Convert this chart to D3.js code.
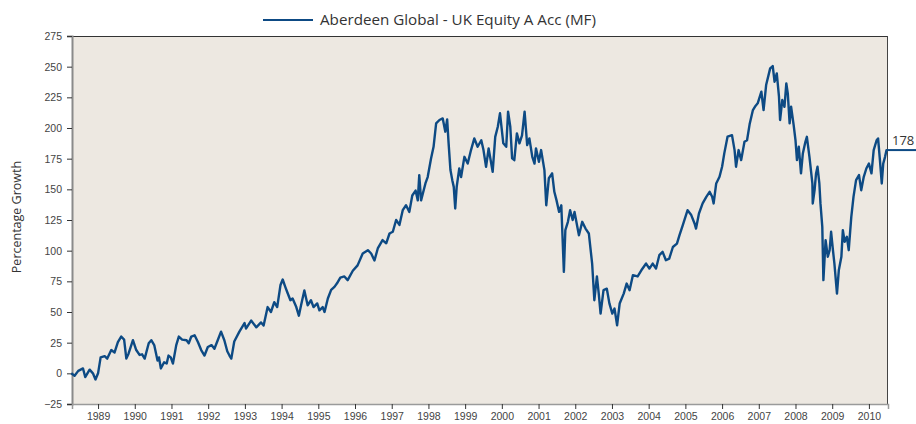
<!DOCTYPE html>
<html>
<head>
<meta charset="utf-8">
<script src="https://cdn.jsdelivr.net/npm/d3@7"></script>
<style>
  body { margin: 0; background: #fff; }
  svg { display: block; font-family: "Open Sans", "Noto Sans", sans-serif; }
</style>
</head>
<body>
<svg id="chart" width="916" height="424"></svg>
<script>
// fund growth (decimal year, % growth)
var seriesName = 'Aberdeen Global - UK Equity A Acc (MF)';
var yTicks = [-25, 0, 25, 50, 75, 100, 125, 150, 175, 200, 225, 250, 275];
var yearTicks = d3.range(1989, 2011);
var endLabel = '178';

var dates = [
  1988.27, 1988.36, 1988.46, 1988.59, 1988.65, 1988.77, 1988.86, 1988.93, 1989.00, 1989.07,
  1989.18, 1989.25, 1989.36, 1989.45, 1989.54, 1989.63, 1989.71, 1989.77, 1989.83, 1989.95,
  1990.04, 1990.13, 1990.20, 1990.27, 1990.38, 1990.45, 1990.53, 1990.62, 1990.66, 1990.71,
  1990.80, 1990.87, 1990.92, 1990.98, 1991.04, 1991.13, 1991.20, 1991.29, 1991.41, 1991.47,
  1991.54, 1991.63, 1991.72, 1991.81, 1991.90, 1991.99, 1992.09, 1992.17, 1992.26, 1992.35,
  1992.44, 1992.52, 1992.58, 1992.63, 1992.71, 1992.85, 1992.99, 1993.03, 1993.17, 1993.31,
  1993.44, 1993.51, 1993.62, 1993.71, 1993.80, 1993.88, 1993.97, 1994.03, 1994.10, 1994.15,
  1994.24, 1994.30, 1994.40, 1994.47, 1994.53, 1994.62, 1994.71, 1994.80, 1994.87, 1994.97,
  1995.03, 1995.12, 1995.17, 1995.26, 1995.35, 1995.44, 1995.51, 1995.60, 1995.71, 1995.80,
  1995.94, 1996.07, 1996.21, 1996.35, 1996.44, 1996.53, 1996.62, 1996.75, 1996.85, 1996.94,
  1997.03, 1997.12, 1997.21, 1997.30, 1997.39, 1997.48, 1997.56, 1997.65, 1997.71, 1997.75,
  1997.80, 1997.92, 1997.98, 1998.07, 1998.14, 1998.21, 1998.30, 1998.39, 1998.46, 1998.51,
  1998.55, 1998.60, 1998.65, 1998.69, 1998.73, 1998.77, 1998.84, 1998.89, 1998.98, 1999.07,
  1999.16, 1999.25, 1999.34, 1999.44, 1999.50, 1999.57, 1999.64, 1999.75, 1999.82, 1999.89,
  1999.95, 2000.04, 2000.12, 2000.17, 2000.23, 2000.28, 2000.34, 2000.41, 2000.48, 2000.55,
  2000.62, 2000.69, 2000.75, 2000.83, 2000.89, 2000.93, 2001.01, 2001.07, 2001.16, 2001.21,
  2001.28, 2001.37, 2001.43, 2001.49, 2001.56, 2001.62, 2001.66, 2001.69, 2001.73, 2001.80,
  2001.86, 2001.93, 2001.98, 2002.10, 2002.19, 2002.28, 2002.37, 2002.46, 2002.52, 2002.59,
  2002.64, 2002.69, 2002.77, 2002.86, 2002.93, 2003.01, 2003.07, 2003.14, 2003.21, 2003.32,
  2003.40, 2003.48, 2003.57, 2003.70, 2003.80, 2003.93, 2004.02, 2004.11, 2004.20, 2004.29,
  2004.38, 2004.47, 2004.56, 2004.66, 2004.77, 2004.84, 2004.93, 2005.06, 2005.16, 2005.25,
  2005.29, 2005.37, 2005.47, 2005.57, 2005.66, 2005.73, 2005.77, 2005.84, 2005.93, 2006.00,
  2006.06, 2006.15, 2006.27, 2006.34, 2006.38, 2006.45, 2006.52, 2006.61, 2006.68, 2006.75,
  2006.84, 2006.91, 2006.97, 2007.07, 2007.13, 2007.20, 2007.31, 2007.38, 2007.43, 2007.49,
  2007.55, 2007.58, 2007.64, 2007.70, 2007.75, 2007.79, 2007.84, 2007.88, 2007.95, 2008.00,
  2008.04, 2008.09, 2008.15, 2008.20, 2008.27, 2008.31, 2008.38, 2008.46, 2008.47, 2008.52,
  2008.56, 2008.60, 2008.65, 2008.68, 2008.73, 2008.76, 2008.82, 2008.88, 2008.93, 2008.97,
  2009.02, 2009.06, 2009.13, 2009.18, 2009.25, 2009.29, 2009.34, 2009.40, 2009.45, 2009.52,
  2009.58, 2009.65, 2009.73, 2009.79, 2009.86, 2009.93, 2010.00, 2010.07, 2010.13, 2010.21,
  2010.25, 2010.30, 2010.35, 2010.39, 2010.44, 2010.48, 2010.52
];

var growth = [
  0, -2, 2, 4, -3, 3, 0, -5, 0, 13,
  14, 12, 19, 17, 25.5, 30, 27.5, 12, 16, 27,
  19, 15, 15.5, 12, 24.5, 27, 23, 10.5, 13, 4,
  9, 8, 14.5, 13, 8, 23, 30, 27.5, 27, 24.5,
  30, 31, 25.5, 19, 14.5, 21.5, 23, 20, 27, 34,
  27, 18, 14.5, 12, 26, 34, 41, 36.5, 43, 37.5,
  41.5, 39, 54, 50, 58, 54, 72, 76.5, 70.5, 66.5,
  59.6, 61, 54, 47, 55.5, 67.5, 55.5, 59.6, 54, 57,
  51.4, 54, 50, 61, 68, 70.5, 73.4, 78, 79, 76,
  83.6, 88, 97.7, 100.4, 97.7, 92, 101.8, 108.6, 106, 114,
  115.4, 125, 121, 133, 137, 131.6, 145, 149, 141, 161.6,
  141, 155, 160, 175, 184.7, 203.8, 206.5, 207.8, 197, 207,
  187.5, 165.7, 157.5, 152, 134.4, 152, 167, 160, 176.5, 171,
  182, 191.5, 184.7, 190, 182, 168.4, 183.4, 164.3, 192.8, 201,
  212, 187.5, 184.7, 213.3, 201, 175.2, 173.8, 195.6, 187.5, 194,
  213.3, 186, 191.5, 176.5, 171, 183.4, 172.5, 182, 165.7, 137,
  159, 163, 148, 141, 131.6, 137, 105.8, 82.7, 116.7, 123.5,
  133, 125, 131.6, 112.6, 123.5, 118, 114, 89.5, 59.6, 79,
  65, 48.7, 67.8, 69, 57, 48.7, 52.8, 39.2, 56.9, 65,
  73.2, 67.8, 80, 79, 84, 89.5, 85.4, 89.5, 85.4, 96.3,
  99, 92.2, 93.5, 103, 105.8, 112.6, 120.8, 133, 129, 122.2,
  118, 130.3, 138.5, 143.9, 148, 143.9, 138.5, 154.8, 160.2, 168.4,
  179.3, 193, 194.2, 182, 168.4, 182, 173.8, 188.8, 190, 203,
  214.6, 218, 220.1, 229.6, 214.6, 235, 248.6, 250.5, 237.7, 244.5,
  225.5, 206.5, 222.8, 217.3, 236.4, 228.2, 203.8, 217.3, 202.4, 190,
  173.8, 184.7, 163, 179.3, 188.8, 192.8, 176.5, 154.8, 138.5, 149.3,
  163, 168.4, 154.8, 138.5, 119.4, 76, 108.6, 95, 100.4, 115.4,
  100.4, 89.5, 65, 84, 95, 116.7, 107.2, 111.3, 100.4, 127.6,
  143.9, 157.5, 161.6, 149.3, 160.2, 167, 171, 163, 182, 190,
  191.5, 173.8, 154.8, 171, 176.5, 182, 182
];

var data = dates.map(function(d, i) { return {t: d, v: growth[i]}; });

var svg = d3.select('#chart');
var margin = {top: 36, right: 28, bottom: 20, left: 72};
var W = 916, H = 424;
var plotW = 888 - margin.left, plotH = 404 - margin.top;
var lineColor = '#0d4a84';

var x = d3.scaleLinear().domain([1988.29, 2010.52]).range([0, plotW]);
var y = d3.scaleLinear().domain([-25, 275]).range([plotH, 0]);

var g = svg.append('g').attr('transform', 'translate(' + margin.left + ',' + margin.top + ')');

g.append('rect')
  .attr('width', plotW).attr('height', plotH)
  .attr('fill', '#ede8e1');

// top and right borders
g.append('line').attr('x1', 0).attr('x2', plotW).attr('y1', 0.5).attr('y2', 0.5)
  .attr('stroke', '#333').attr('stroke-width', 1.2);
g.append('line').attr('x1', plotW - 0.5).attr('x2', plotW - 0.5).attr('y1', 0).attr('y2', plotH)
  .attr('stroke', '#444').attr('stroke-width', 1);

var yAxis = g.append('g')
  .call(d3.axisLeft(y).tickValues(yTicks).tickSize(5).tickPadding(5));
yAxis.select('.domain').attr('stroke', '#8a8a8a').attr('stroke-width', 2);
yAxis.selectAll('.tick line').attr('stroke', '#333');
yAxis.selectAll('.tick text').attr('fill', '#444').style('font-size', '10.5px');

var xAxis = g.append('g')
  .attr('transform', 'translate(0,' + plotH + ')')
  .call(d3.axisBottom(x).tickValues(yearTicks).tickFormat(d3.format('d')).tickSize(5).tickPadding(4));
xAxis.select('.domain').attr('stroke', '#9a9a9a').attr('stroke-width', 1.5);
xAxis.selectAll('.tick line').attr('stroke', '#333');
xAxis.selectAll('.tick text').attr('fill', '#444').style('font-size', '10.5px');

var line = d3.line()
  .x(function(d) { return x(d.t); })
  .y(function(d) { return y(d.v); });

g.append('path')
  .datum(data)
  .attr('d', line)
  .attr('fill', 'none')
  .attr('stroke', lineColor)
  .attr('stroke-width', 2.4)
  .attr('stroke-linejoin', 'round');

// last value marker off the right edge
var last = data[data.length - 1];
g.append('line')
  .attr('x1', plotW).attr('x2', W - margin.left)
  .attr('y1', y(last.v)).attr('y2', y(last.v))
  .attr('stroke', lineColor).attr('stroke-width', 2);
g.append('text')
  .attr('x', plotW + 4).attr('y', y(last.v) - 5)
  .attr('fill', '#333').style('font-size', '13px')
  .text(endLabel);

// y title
svg.append('text')
  .attr('transform', 'translate(21,' + (margin.top + plotH / 2 - 3) + ') rotate(-90)')
  .attr('text-anchor', 'middle')
  .attr('fill', '#333').style('font-size', '12.5px')
  .text('Percentage Growth');

// legend
svg.append('line')
  .attr('x1', 263).attr('x2', 313).attr('y1', 20).attr('y2', 20)
  .attr('stroke', lineColor).attr('stroke-width', 2);
svg.append('text')
  .attr('x', 320).attr('y', 25)
  .attr('fill', '#333').style('font-size', '15.2px')
  .text(seriesName);
</script>
</body>
</html>
